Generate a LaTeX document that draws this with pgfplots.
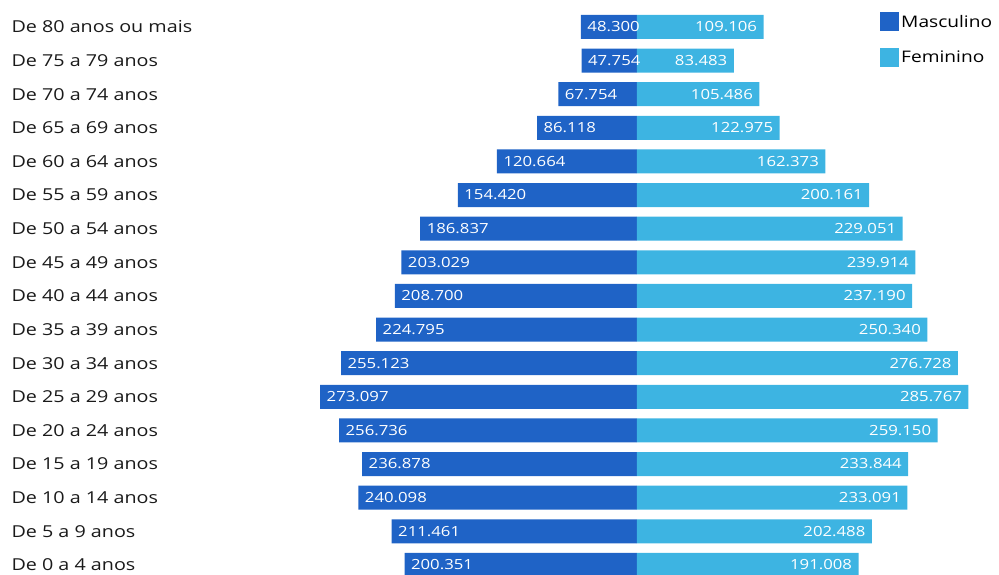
\documentclass[border=0pt]{standalone}
\usepackage{pgfplots}
\pgfplotsset{compat=1.18}
\usepackage{fontspec}
\setmainfont{Open Sans}[FakeStretch=1.2]
\definecolor{masc}{HTML}{1F63C6}
\definecolor{fem}{HTML}{3DB4E2}
\definecolor{lab}{HTML}{1A1A1A}
\begin{document}
\begin{tikzpicture}
\begin{axis}[name=ax,
  scale only axis, width=999bp, height=575bp,
  xmin=-549100, xmax=312100, ymin=-0.3, ymax=16.8,
  axis line style={draw=none}, tick style={draw=none}, major tick length=0pt,
  xtick=\empty,
  ytick={0,...,16},
  yticklabels={De 0 a 4 anos, De 5 a 9 anos, De 10 a 14 anos, De 15 a 19 anos, De 20 a 24 anos, De 25 a 29 anos, De 30 a 34 anos, De 35 a 39 anos, De 40 a 44 anos, De 45 a 49 anos, De 50 a 54 anos, De 55 a 59 anos, De 60 a 64 anos, De 65 a 69 anos, De 70 a 74 anos, De 75 a 79 anos, De 80 anos ou mais},
  yticklabel style={anchor=west, xshift=8bp, text=lab, font=\fontsize{16.5}{19}\selectfont},
  /pgf/number format/assume math mode=true,
  /pgf/number format/.cd, fixed, precision=0, 1000 sep={.}, /pgfplots/.cd,
  xbar, bar width=24bp, bar shift=0pt,
  point meta=explicit,
  legend style={at={(0.8809,0.9791)}, anchor=north west, draw=none, fill=none, inner sep=0pt,
    font=\fontsize{16}{19}\selectfont, row sep=17bp,
    /tikz/every even column/.append style={column sep=0pt}},
  legend cell align=left,
  legend image code/.code={\fill[#1] (0bp,-9.5bp) rectangle (19bp,9.5bp);},
]
\addplot[fill=masc, draw=none, nodes near coords,
  every node near coord/.append style={anchor=west, text=white, xshift=3bp, font=\fontsize{14}{16}\selectfont}]
coordinates {
(-200351,0)[200351] (-211461,1)[211461] (-240098,2)[240098] (-236878,3)[236878]
(-256736,4)[256736] (-273097,5)[273097] (-255123,6)[255123] (-224795,7)[224795]
(-208700,8)[208700] (-203029,9)[203029] (-186837,10)[186837] (-154420,11)[154420]
(-120664,12)[120664] (-86118,13)[86118] (-67754,14)[67754] (-47754,15)[47754]
(-48300,16)[48300]
};
\addlegendentry{Masculino}
\addplot[fill=fem, draw=none, nodes near coords,
  every node near coord/.append style={anchor=east, text=white, xshift=-3bp, font=\fontsize{14}{16}\selectfont}]
coordinates {
(191008,0)[191008] (202488,1)[202488] (233091,2)[233091] (233844,3)[233844]
(259150,4)[259150] (285767,5)[285767] (276728,6)[276728] (250340,7)[250340]
(237190,8)[237190] (239914,9)[239914] (229051,10)[229051] (200161,11)[200161]
(162373,12)[162373] (122975,13)[122975] (105486,14)[105486] (83483,15)[83483]
(109106,16)[109106]
};
\addlegendentry{Feminino}
\end{axis}
\pgfresetboundingbox
\useasboundingbox (ax.south west) rectangle (ax.north east);
\end{tikzpicture}
\end{document}
